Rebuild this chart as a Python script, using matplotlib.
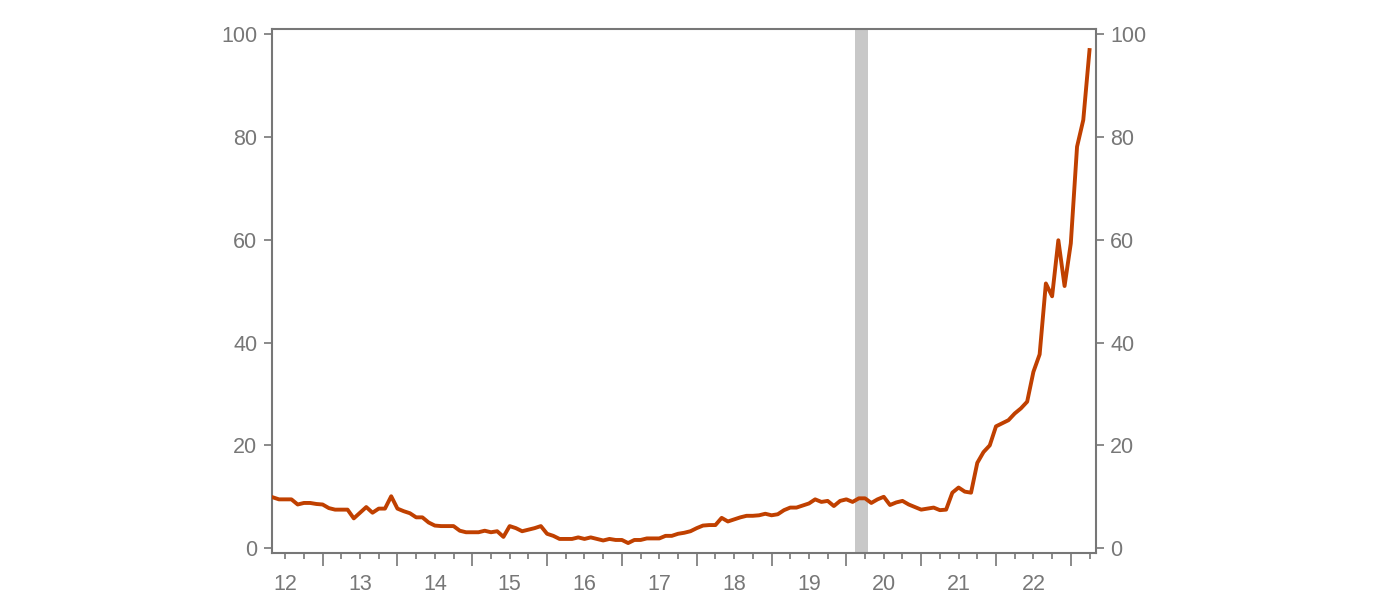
import numpy as np
import matplotlib
matplotlib.use("Agg")
import matplotlib.pyplot as plt

# monthly series, May 2012 .. Apr 2023
start_year = 2012
start_month = 5
values = [
    9.9, 9.5, 9.5, 9.5, 8.5, 8.8, 8.8, 8.6, 8.5, 7.8, 7.5, 7.5,
    7.5, 5.8, 6.9, 8.0, 6.9, 7.7, 7.7, 10.1, 7.7, 7.2, 6.8, 6.0,
    6.0, 5.0, 4.4, 4.3, 4.3, 4.3, 3.4, 3.1, 3.1, 3.1, 3.4, 3.1,
    3.3, 2.2, 4.3, 3.9, 3.3, 3.6, 3.9, 4.3, 2.8, 2.4, 1.8, 1.8,
    1.8, 2.1, 1.8, 2.1, 1.8, 1.5, 1.8, 1.6, 1.6, 1.0, 1.6, 1.6,
    1.9, 1.9, 1.9, 2.4, 2.4, 2.8, 3.0, 3.3, 3.9, 4.4, 4.5, 4.5,
    5.9, 5.2, 5.6, 6.0, 6.3, 6.3, 6.4, 6.7, 6.4, 6.6, 7.4, 7.9,
    7.9, 8.3, 8.7, 9.5, 9.0, 9.2, 8.2, 9.2, 9.5, 9.0, 9.7, 9.7,
    8.8, 9.5, 10.0, 8.4, 8.9, 9.2, 8.5, 8.0, 7.5, 7.7, 7.9, 7.4,
    7.5, 10.8, 11.8, 11.0, 10.8, 16.6, 18.7, 20.0, 23.7, 24.3, 24.9, 26.2,
    27.2, 28.5, 34.3, 37.7, 51.5, 49.0, 59.9, 51.0, 59.3, 78.1, 83.3, 96.9,
]
# recession shading (fractional years)
rec_start = 2020.12
rec_end = 2020.29

years = list(range(2012, 2024))
year_labels = [str(y)[2:] for y in years[:-1]]
yticks = [0, 20, 40, 60, 80, 100]

t = start_year + (start_month - 1 + np.arange(len(values))) / 12.0

grey = '#777777'
plt.rcParams['font.family'] = ['Liberation Sans', 'DejaVu Sans']

fig = plt.figure(figsize=(14, 6.05), dpi=100)
ax = fig.add_axes([0.1941, 0.0854, 0.5884, 0.8667])

ax.axvspan(rec_start, rec_end, color='#C8C8C8', lw=0, zorder=1)
ax.plot(t, values, color='#C04000', lw=2.8, zorder=3)

for s in ax.spines.values():
    s.set_color(grey)
    s.set_linewidth(1.5)

ax.set_yticks(yticks)
ax.tick_params(axis='y', which='major', left=True, right=True,
               labelleft=True, labelright=True, direction='out',
               length=5.5, width=1.2, color=grey, labelcolor=grey,
               labelsize=15.5, pad=5)

# year boundaries as long ticks, quarters as short ones, labels mid-year
ax.set_xticks(years[1:])
ax.set_xticklabels([''] * len(years[1:]))
quarters = [y + q / 4 for y in years for q in (1, 2, 3)]
qlabels = [year_labels[i // 3] if (i % 3 == 1 and i // 3 < len(year_labels)) else ''
           for i in range(len(quarters))]
ax.set_xticks(quarters, minor=True)
ax.set_xticklabels(qlabels, minor=True)
ax.tick_params(axis='x', which='major', direction='out', length=9.5,
               width=1.2, color=grey)
ax.tick_params(axis='x', which='minor', direction='out', length=4,
               width=1.2, color=grey, labelcolor=grey, labelsize=15.5, pad=11)

# limits last: set_xticks widens the view
ax.set_xlim(2012.32, 2023.33)
ax.set_ylim(-1, 101)

fig.savefig('out.png', dpi=100)
